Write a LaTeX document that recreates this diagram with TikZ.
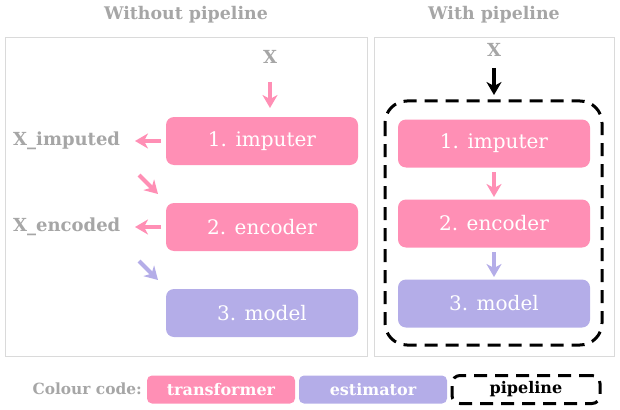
\documentclass[tikz,border=0pt]{standalone}
\usepackage{fontspec}
\setmainfont{DejaVu Serif}
\usetikzlibrary{arrows.meta}
\definecolor{pk}{HTML}{FF8FB5}
\definecolor{pu}{HTML}{B4ADE8}
\definecolor{gt}{HTML}{A6A6A6}
\definecolor{bd}{HTML}{DADADA}
\tikzset{
  panel/.style={draw=bd, line width=1pt},
  stepbox/.style={rounded corners=8pt, minimum width=192pt, minimum height=48pt, text=white, font=\fontsize{20}{22}\selectfont, inner sep=0pt},
  tbox/.style={stepbox, fill=pk},
  ebox/.style={stepbox, fill=pu},
  lbl/.style={text=gt, font=\bfseries\fontsize{18}{20}\selectfont, inner sep=0pt},
  ttl/.style={text=gt, font=\bfseries\fontsize{17.4}{20}\selectfont, inner sep=0pt},
  arr/.style={line width=4pt, -{Stealth[length=13pt,width=15pt,inset=4pt]}},
  legbox/.style={rounded corners=5pt, minimum width=148pt, minimum height=28pt, text=white, font=\bfseries\fontsize{16}{18}\selectfont, inner sep=0pt},
  pipe/.style={draw=black, line width=3pt, dash pattern=on 13pt off 8pt},
}
\begin{document}
\begin{tikzpicture}[x=1pt,y=-1pt]
\useasboundingbox (0,0) rectangle (620,409);
% panels
\draw[panel] (5,38) rectangle (367,356);
\draw[panel] (374,38) rectangle (614,356);
\node[ttl] (t1) at (186,15) {Without pipeline};
\node[ttl] (t2) at (494,15) {With pipeline};
% left panel
\node[lbl] (xl) at (270,57) {X};
\node[tbox] (imp) at (262,141) {1. imputer};
\node[tbox] (enc) at (262,227) {2. encoder};
\node[ebox] (mod) at (262,313) {3. model};
\node[lbl, anchor=west] (ximp) at (13,141) {X\_imputed};
\node[lbl, anchor=west] (xenc) at (13,227) {X\_encoded};
\coordinate (a1s) at (270,82);
\coordinate (a1e) at (270,108);
\draw[arr, pk] (a1s) -- (a1e);
\coordinate (a2s) at (161,141);
\coordinate (a2e) at (135,141);
\draw[arr, pk] (a2s) -- (a2e);
\coordinate (a3s) at (139,175);
\coordinate (a3e) at (158,194);
\draw[arr, pk] (a3s) -- (a3e);
\coordinate (a4s) at (161,227);
\coordinate (a4e) at (135,227);
\draw[arr, pk] (a4s) -- (a4e);
\coordinate (a5s) at (139,261);
\coordinate (a5e) at (158,280);
\draw[arr, pu] (a5s) -- (a5e);
% right panel
\node[lbl] (xr) at (494,50) {X};
\draw[pipe, rounded corners=22pt] (385,101) rectangle (602,345);
\coordinate (b0) at (494,68);
\coordinate (pin) at (494,95);
\draw[arr, black] (b0) -- (pin);
\node[tbox] (rimp) at (494,143.5) {1. imputer};
\node[tbox] (renc) at (494,223.5) {2. encoder};
\node[ebox] (rmod) at (494,303.5) {3. model};
\coordinate (c0) at (494,172);
\coordinate (c1) at (494,197);
\coordinate (d0) at (494,252);
\coordinate (d1) at (494,277);
\draw[arr, pk] (c0) -- (c1);
\draw[arr, pu] (d0) -- (d1);
% legend
\node[lbl, font=\bfseries\fontsize{15.4}{17}\selectfont, anchor=east] (cc) at (142,389) {Colour code:};
\node[legbox, fill=pk] (lt) at (221,389.5) {transformer};
\node[legbox, fill=pu] (le) at (373,389.5) {estimator};
\node[legbox, text=black, pipe, rounded corners=8pt] (lp) at (526,389.5) {pipeline};
\end{tikzpicture}
\end{document}
